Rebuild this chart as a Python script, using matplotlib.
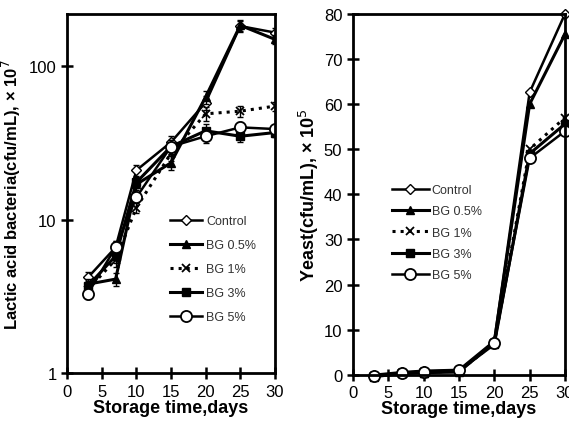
import matplotlib
matplotlib.use("Agg")
import matplotlib.pyplot as plt
from matplotlib.ticker import FixedLocator, NullLocator

plt.rcParams['font.family'] = ['Liberation Sans', 'DejaVu Sans']

days = [3, 7, 10, 15, 20, 25, 30]
series = ["Control", "BG 0.5%", "BG 1%", "BG 3%", "BG 5%"]

# lactic acid bacteria, x10^7 cfu/mL
lab_control = [4.2, 6.6, 21, 32, 58, 183, 166]
lab_bg05 = [3.8, 4.1, 17, 23.5, 63, 185, 150]
lab_bg1 = [3.5, 5.5, 12, 27, 49, 51, 55]
lab_bg3 = [3.7, 5.8, 17.5, 30, 38, 35, 37]
lab_bg5 = [3.3, 6.6, 14, 30, 35, 40, 39]
# relative error (fraction of the mean)
lab_rel_err = [0.08, 0.1, 0.08, 0.1, 0.1, 0.08, 0.07]

# yeast, x10^5 cfu/mL
yeast_control = [0, 0.6, 0.9, 1.1, 7.5, 62.6, 80]
yeast_bg05 = [-0.3, 0.3, 0.5, 0.6, 7.3, 60, 75.5]
yeast_bg1 = [-0.2, 0.4, 0.6, 0.8, 7.0, 50, 57]
yeast_bg3 = [-0.4, 0.3, 0.5, 0.9, 6.8, 49, 55.6]
yeast_bg5 = [-0.3, 0.5, 0.7, 1.0, 7.0, 48, 54]

styles = [
    dict(marker='D', mfc='white', mec='black', ms=5, ls='-', lw=1.8),
    dict(marker='^', mfc='black', mec='black', ms=6, ls='-', lw=2.2),
    dict(marker='x', mfc='none', mec='black', ms=6, mew=1.3, ls=':', lw=2.2),
    dict(marker='s', mfc='black', mec='black', ms=6, ls='-', lw=2.2),
    dict(marker='o', mfc='white', mec='black', ms=8, mew=1.3, ls='-', lw=1.8),
]

fig = plt.figure(figsize=(5.69, 4.35), dpi=100)
ax1 = fig.add_axes([0.118, 0.140, 0.365, 0.826])
ax2 = fig.add_axes([0.620, 0.136, 0.373, 0.830])

lab = [lab_control, lab_bg05, lab_bg1, lab_bg3, lab_bg5]
for name, vals, st in zip(series, lab, styles):
    ax1.errorbar(days, vals, yerr=[r * v for r, v in zip(lab_rel_err, vals)],
                 fmt='none', ecolor='black', capsize=2.5, elinewidth=1)
    ax1.plot(days, vals, color='black', label=name, **st)
ax1.set_yscale('log')
ax1.set_ylim(1, 220)
ax1.set_xlim(0, 30)
ax1.yaxis.set_major_locator(FixedLocator([1, 10, 100]))
ax1.yaxis.set_minor_locator(NullLocator())
ax1.set_yticklabels(['1', '10', '100'])
ax1.set_xticks([0, 5, 10, 15, 20, 25, 30])
ax1.set_ylabel('Lactic acid bacteria(cfu/mL), × 10$^7$', fontsize=12,
               fontweight='bold', labelpad=4)

yeast = [yeast_control, yeast_bg05, yeast_bg1, yeast_bg3, yeast_bg5]
for name, vals, st in zip(series, yeast, styles):
    ax2.plot(days, vals, color='black', label=name, clip_on=False, **st)
ax2.set_ylim(0, 80)
ax2.set_xlim(0, 30)
ax2.set_yticks(range(0, 81, 10))
ax2.set_xticks([0, 5, 10, 15, 20, 25, 30])
ax2.set_ylabel('Yeast(cfu/mL), × 10$^5$', fontsize=13, fontweight='bold',
               labelpad=2)

for ax in (ax1, ax2):
    for s in ax.spines.values():
        s.set_linewidth(2)
    ax.tick_params(direction='inout', length=8, width=1.8, labelsize=12)
    ax.set_xlabel('Storage time,days', fontsize=13, fontweight='bold',
                  labelpad=0)

leg1 = ax1.legend(loc='upper left', bbox_to_anchor=(0.44, 0.47), frameon=False,
                  fontsize=9, handlelength=2.6, labelspacing=0.95,
                  handletextpad=0.3)
leg2 = ax2.legend(loc='upper left', bbox_to_anchor=(0.13, 0.56), frameon=False,
                  fontsize=9, handlelength=3.0, labelspacing=0.75,
                  handletextpad=0.2)
for leg in (leg1, leg2):
    for t in leg.get_texts():
        t.set_color('#333333')

fig.savefig('out.png', dpi=100)
